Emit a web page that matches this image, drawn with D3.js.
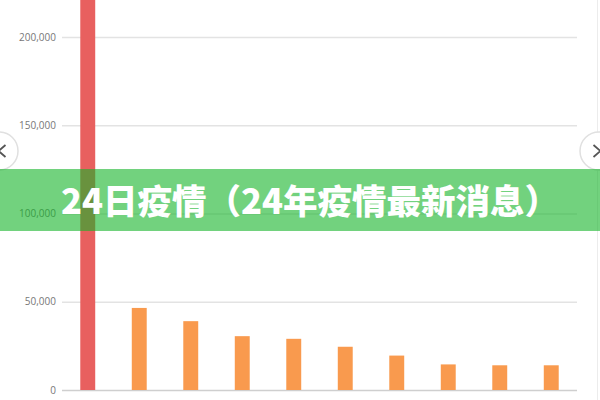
<!DOCTYPE html>
<html><head><meta charset="utf-8">
<script src="https://cdn.jsdelivr.net/npm/d3@7"></script>
<style>
html,body{margin:0;padding:0;background:#fff;}
svg{display:block;}
</style></head>
<body><svg id="c" width="600" height="400"></svg>
<script>
const categories = ["c1","c2","c3","c4","c5","c6","c7","c8","c9","c10"];
const values = [235000, 46500, 39000, 30500, 29000, 24500, 19500, 14500, 14000, 14000];
const highlight = [true, false, false, false, false, false, false, false, false, false];
const yTicks = [0, 50000, 100000, 150000, 200000];
const title = "24日疫情（24年疫情最新消息）";

const svg = d3.select("#c");
const W = 600, H = 400;
const x = d3.scaleBand().domain(categories).range([62, 577]).paddingInner(0.71).paddingOuter(0.355);
const y = d3.scaleLinear().domain([0, 200000]).range([390, 37]);

svg.append("line").attr("x1",597.5).attr("x2",597.5).attr("y1",0).attr("y2",400)
  .attr("stroke","#ececec").attr("stroke-width",1);

const yAxis = d3.axisLeft(y).tickValues(yTicks).tickSize(-(577-62)).tickPadding(6)
  .tickFormat(d3.format(","));
const gA = svg.append("g").attr("transform","translate(62,0)").call(yAxis);
gA.select(".domain").remove();
gA.selectAll(".tick line").attr("stroke", d => d === 0 ? "#cfcfcf" : "#e3e3e3").attr("stroke-width",1.3);
gA.selectAll(".tick text").attr("fill","#777").attr("font-size","10px")
  .attr("font-family","'Open Sans','DejaVu Sans',sans-serif");

svg.append("g").selectAll("rect").data(categories).join("rect")
  .attr("x", d => x(d))
  .attr("width", x.bandwidth())
  .attr("y", (d,i) => Math.max(y(values[i]), -5))
  .attr("height", (d,i) => y(0) - Math.max(y(values[i]), -5))
  .attr("fill", (d,i) => highlight[i] ? "#e8605f" : "#f99a4e");

function navCircle(cx, cy, dir, px){
  const g = svg.append("g");
  g.append("circle").attr("cx",cx).attr("cy",cy).attr("r",19)
    .attr("fill","#fff").attr("stroke","#e0e0e0").attr("stroke-width",1.5);
  g.append("path").attr("d", `M${px - dir*3.5},${cy-6} L${px + dir*3.5},${cy} L${px - dir*3.5},${cy+6}`)
    .attr("fill","none").attr("stroke","#555").attr("stroke-width",1.8);
}
navCircle(-1, 151, -1, 2);
navCircle(599, 151, 1, 597);

svg.append("rect").attr("x",0).attr("y",169).attr("width",W).attr("height",62)
  .attr("fill","rgb(20,180,40)").attr("fill-opacity",0.6);
svg.append("text").attr("x",310).attr("y",214).attr("text-anchor","middle")
  .attr("fill","#fff").attr("font-size","34.5px").attr("font-weight","900")
  .attr("font-family","'Noto Sans CJK SC','Noto Sans',sans-serif")
  .text(title);
</script></body></html>
